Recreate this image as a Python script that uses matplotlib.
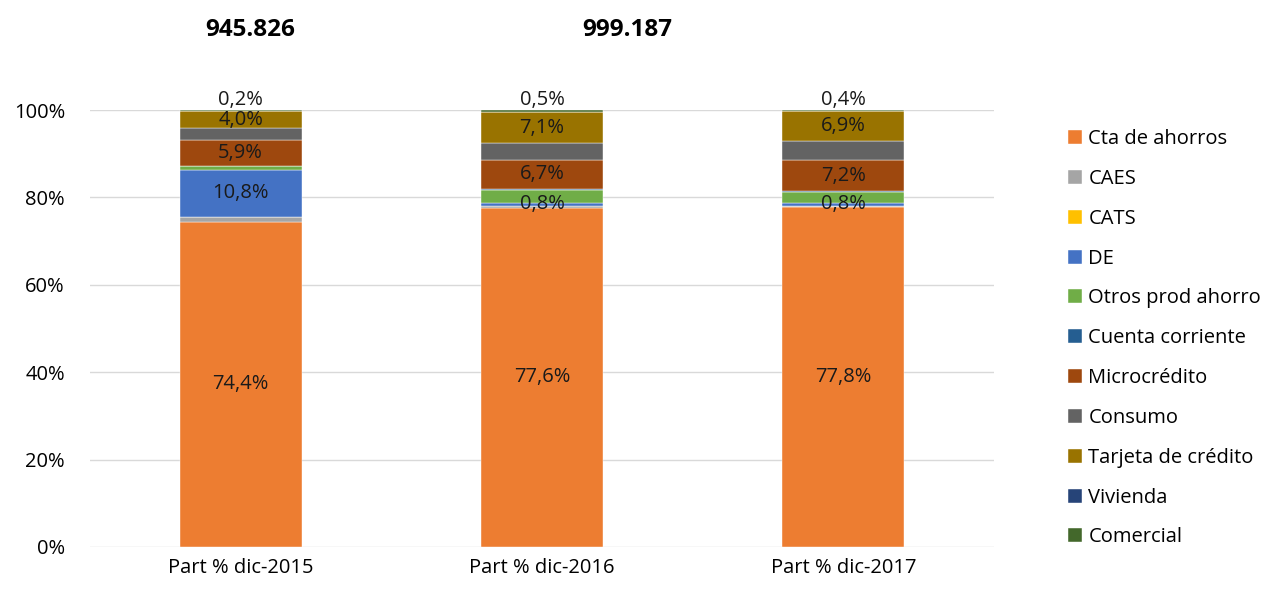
import matplotlib.pyplot as plt
import numpy as np

plt.rcParams['font.family'] = ['Open Sans', 'DejaVu Sans']

# categories and series (percent of total)
years = ['Part % dic-2015', 'Part % dic-2016', 'Part % dic-2017']
series = ['Cta de ahorros', 'CAES', 'CATS', 'DE', 'Otros prod ahorro',
          'Cuenta corriente', 'Microcrédito', 'Consumo', 'Tarjeta de crédito',
          'Vivienda', 'Comercial']
cta = [74.4, 77.6, 77.8]
caes = [1.1, 0.4, 0.2]
cats = [0.0, 0.0, 0.0]
de = [10.8, 0.8, 0.8]
otros = [0.8, 3.0, 2.5]
cuenta = [0.1, 0.1, 0.1]
micro = [5.9, 6.7, 7.2]
consumo = [2.7, 3.8, 4.2]
tarjeta = [4.0, 7.1, 6.9]
vivienda = [0.0, 0.0, 0.0]
comercial = [0.2, 0.5, 0.4]
totals = ['945.826', '999.187']

colors = ['#ED7D31', '#A5A5A5', '#FFC000', '#4472C4', '#70AD47', '#255E91',
          '#9E480E', '#636363', '#997300', '#264478', '#43682B']
values = [cta, caes, cats, de, otros, cuenta, micro, consumo, tarjeta, vivienda, comercial]
labeled = ['Cta de ahorros', 'DE', 'Microcrédito', 'Tarjeta de crédito']

def fmt(v):
    return ('%.1f' % v).replace('.', ',') + '%'

fs = 14.5

fig = plt.figure(figsize=(12.63, 5.89), dpi=100)
ax = fig.add_axes([90 / 1263, 1 - 547 / 589, 904 / 1263, 437 / 589])

x = np.arange(len(years))
bottom = np.zeros(len(years))
handles = []
for name, vals, col in zip(series, values, colors):
    vals = np.array(vals) / 100.0
    b = ax.bar(x, vals, 0.405, bottom=bottom, color=col, label=name,
               edgecolor='white', linewidth=0.3, zorder=3)
    handles.append(b)
    if name in labeled:
        for i in range(len(years)):
            ax.text(x[i], bottom[i] + vals[i] / 2, fmt(vals[i] * 100),
                    ha='center', va='center', fontsize=fs, color='#1a1a1a', zorder=4)
    if name == 'Comercial':
        for i in range(len(years)):
            ax.annotate(fmt(vals[i] * 100), (x[i], bottom[i] + vals[i]),
                        xytext=(0, 0), textcoords='offset points',
                        ha='center', va='bottom', fontsize=fs, color='#1a1a1a',
                        annotation_clip=False)
    bottom = bottom + vals

ax.set_xlim(-0.5, 2.5)
ax.set_ylim(0, 1)
ax.set_yticks(np.arange(0, 1.01, 0.2))
ax.set_yticklabels(['%d%%' % (v * 100) for v in np.arange(0, 1.01, 0.2)], fontsize=fs)
ax.set_xticks(x)
ax.set_xticklabels(years, fontsize=fs)
ax.tick_params(length=0, pad=8)
ax.tick_params(axis='y', pad=18)
ax.grid(axis='y', color='#D9D9D9', linewidth=1, zorder=0)
for s in ax.spines.values():
    s.set_visible(False)

fig.text(250 / 1263, 1 - 30 / 589, totals[0], ha='center', va='center',
         fontsize=17.5, fontweight='bold')
fig.text(627 / 1263, 1 - 30 / 589, totals[1], ha='center', va='center',
         fontsize=17.5, fontweight='bold')

fig.legend(handles=handles, labels=series, loc='upper left',
           bbox_to_anchor=(1050 / 1263, 1 - 111 / 589), frameon=False,
           fontsize=fs, handlelength=0.7, handleheight=0.7, handletextpad=0.3,
           labelspacing=0.985)

fig.savefig('out.png', dpi=100)
